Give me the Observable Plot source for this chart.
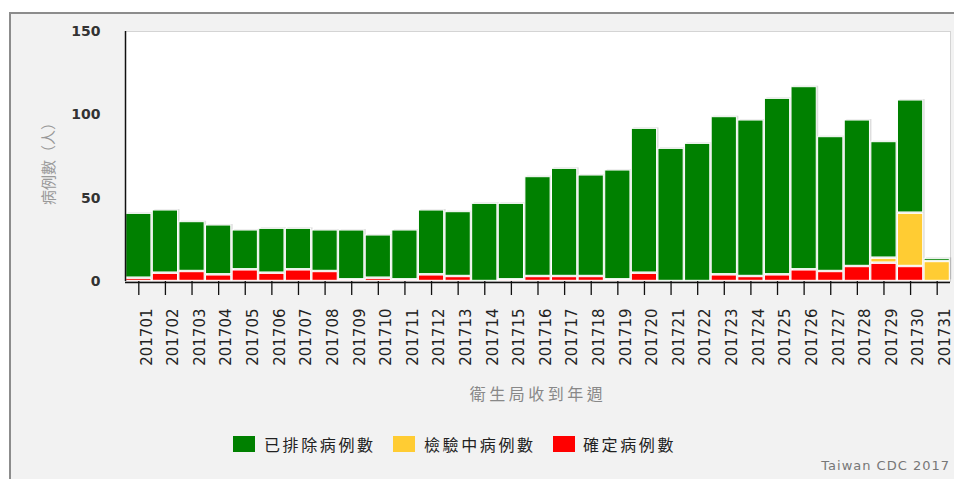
<!DOCTYPE html>
<html><head><meta charset="utf-8">
<script src="https://cdn.jsdelivr.net/npm/d3@7"></script>
<script src="https://cdn.jsdelivr.net/npm/@observablehq/plot@0.6"></script>
<style>
html,body{margin:0;padding:0;background:#fff;}
#wrap{position:relative;width:954px;height:479px;overflow:hidden;}
#frame{position:absolute;left:9px;top:12px;width:960px;height:480px;border-left:2px solid #8c8c8c;border-top:2px solid #8c8c8c;background:#f2f2f2;box-sizing:border-box;}
#chart{position:absolute;left:0;top:0;}
#ylab{position:absolute;left:47px;top:160px;transform:translate(-50%,-50%) rotate(-90deg);white-space:nowrap;font-family:"Noto Sans CJK TC";font-size:15px;color:#999;}
#xlab{position:absolute;left:538px;top:393px;transform:translate(-50%,-50%);white-space:nowrap;font-family:"Noto Sans CJK TC";font-size:16px;letter-spacing:3.5px;color:#888;}
.lg{position:absolute;top:436px;height:16px;}
.sw{position:absolute;width:22px;height:16px;top:0;}
.lt{position:absolute;top:-4px;white-space:nowrap;font-family:"Noto Sans CJK TC";font-size:16px;line-height:24px;letter-spacing:2.6px;color:#222;}
#credit{position:absolute;right:4px;top:458px;font-family:"DejaVu Sans";font-size:13px;letter-spacing:1px;color:#777;}
</style>
</head><body>
<div id="wrap">
<div id="frame"></div>
<div id="chart"></div>
<div id="ylab">病例數（人）</div>
<div id="xlab">衛生局收到年週</div>
<div id="legend"></div>
<div id="credit">Taiwan CDC 2017</div>
</div>
<script>
const weeks = ["201701","201702","201703","201704","201705","201706","201707","201708","201709","201710",
  "201711","201712","201713","201714","201715","201716","201717","201718","201719","201720",
  "201721","201722","201723","201724","201725","201726","201727","201728","201729","201730","201731"];
// 確定病例數 (confirmed)
const confirmed = [2,5,6,4,7,5,7,6,1,2,1,4,3,0,1,3,3,3,1,5,0,0,4,3,4,7,6,9,11,9,0];
// 檢驗中病例數 (under testing)
const testing   = [0,0,0,0,0,0,0,0,0,0,0,0,0,0,0,0,0,0,0,0,0,0,0,0,0,0,0,0,3,32,12];
// 已排除病例數 (excluded)
const excluded  = [39,38,30,30,24,27,25,25,30,26,30,39,39,47,46,60,65,61,66,87,80,83,95,94,106,110,81,88,70,68,2];

const seriesNames = ["確定病例數","檢驗中病例數","已排除病例數"];
const seriesColors = ["#ff0000","#ffcc33","#008000"];
const legendOrder = ["已排除病例數","檢驗中病例數","確定病例數"];
const yTicks = [0,50,100,150];

const data = weeks.flatMap((w,i)=>[
  {week:w, series:seriesNames[0], value:confirmed[i]},
  {week:w, series:seriesNames[1], value:testing[i]},
  {week:w, series:seriesNames[2], value:excluded[i]}
]);

const chart = Plot.plot({
  width:954, height:410,
  marginLeft:125, marginRight:4, marginTop:31, marginBottom:129,
  style:{background:"transparent", fontFamily:"DejaVu Sans", overflow:"visible"},
  x:{domain:weeks, padding:0, round:false, label:null},
  y:{domain:[0,150], label:null},
  color:{domain:seriesNames, range:seriesColors},
  marks:[
    Plot.frame({fill:"white", stroke:"#d4d4d4"}),
    Plot.barY(data, Plot.groupX({y:"sum"}, {x:"week", y:"value", fill:"#000", fillOpacity:0.13, dx:2, dy:-1, inset:0.7})),
    Plot.barY(data, {x:"week", y:"value", fill:"series", stroke:"white", strokeWidth:1, inset:0.7}),
    Plot.ruleY([0], {stroke:"#111", strokeWidth:1.5, dy:1}),
    Plot.ruleX([weeks[0]], {x:d=>d, y1:0, y2:150, stroke:"#111", strokeWidth:1.5, dx:-13.3}),
    Plot.axisY({ticks:yTicks, tickSize:0, tickPadding:25, fontSize:14, fontWeight:"bold", fill:"#333", label:null}),
    Plot.axisX({tickSize:14, tickFormat:()=>"", stroke:"#111", strokeWidth:1.3, label:null}),
    Plot.axisX({tickSize:0, tickPadding:27, tickRotate:-90, fontSize:15, fill:"#222", dx:8, label:null})
  ]
});
document.getElementById("chart").appendChild(chart);

const lg = document.getElementById("legend");
const swX = [233,393,553], txX = [264,424,583];
legendOrder.forEach((name,i)=>{
  const c = seriesColors[seriesNames.indexOf(name)];
  const d = document.createElement("div");
  d.className="lg"; d.style.left="0px";
  d.innerHTML = `<div class="sw" style="left:${swX[i]}px;background:${c}"></div><div class="lt" style="left:${txX[i]}px">${name}</div>`;
  lg.appendChild(d);
});
</script>
</body></html>
